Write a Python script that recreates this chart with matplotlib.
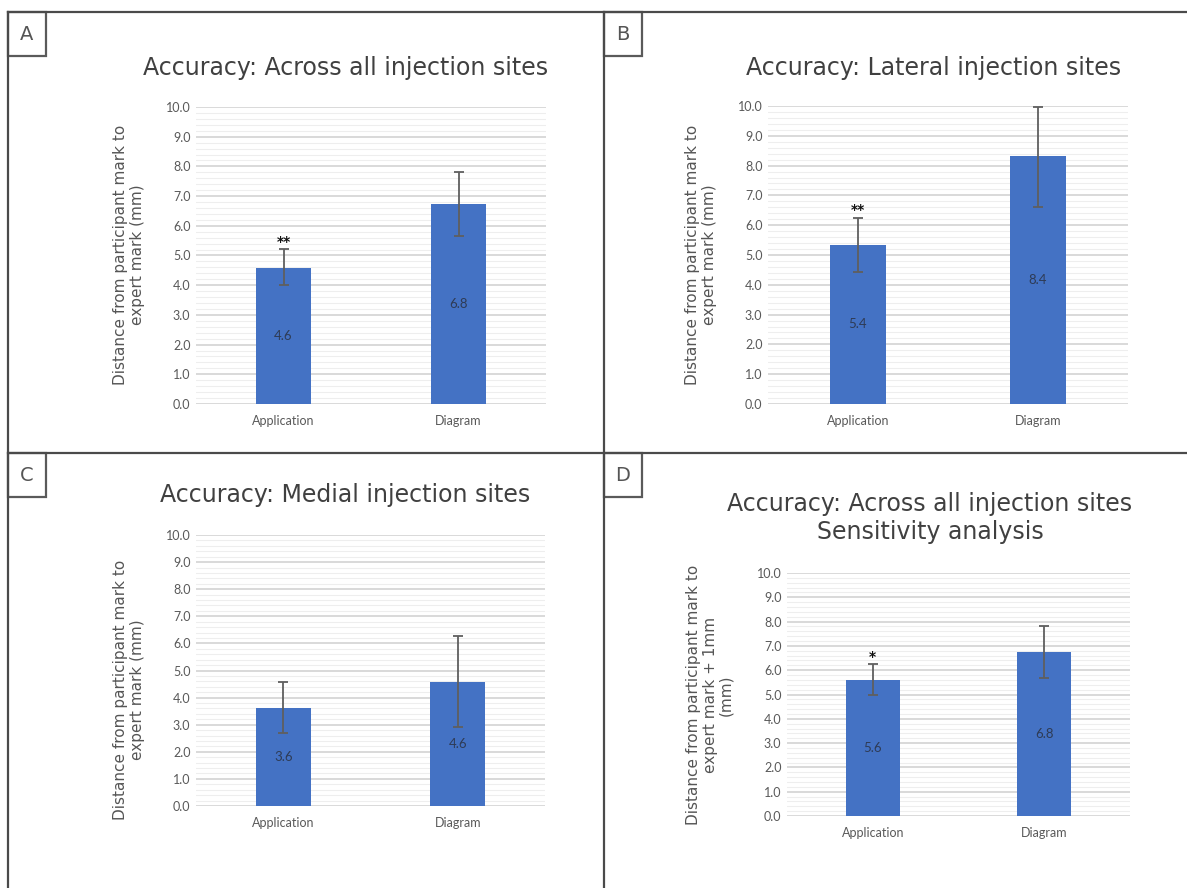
import matplotlib
matplotlib.use("Agg")
import matplotlib.pyplot as plt
from matplotlib.lines import Line2D
from matplotlib.patches import Rectangle
from matplotlib.ticker import MultipleLocator

W, H = 1187, 888
fig = plt.figure(figsize=(W / 100, H / 100), dpi=100)

categories = ["Application", "Diagram"]

# Panel data
panel_letters = ["A", "B", "C", "D"]
titles = [
    "Accuracy: Across all injection sites",
    "Accuracy: Lateral injection sites",
    "Accuracy: Medial injection sites",
    "Accuracy: Across all injection sites\nSensitivity analysis",
]
ylabels = [
    "Distance from participant mark to\nexpert mark (mm)",
    "Distance from participant mark to\nexpert mark (mm)",
    "Distance from participant mark to\nexpert mark (mm)",
    "Distance from participant mark to\nexpert mark + 1mm\n(mm)",
]
bar_A = [4.58, 6.73]
bar_B = [5.34, 8.33]
bar_C = [3.63, 4.58]
bar_D = [5.60, 6.74]
labels_A = ["4.6", "6.8"]
labels_B = ["5.4", "8.4"]
labels_C = ["3.6", "4.6"]
labels_D = ["5.6", "6.8"]
err_lo_A = [4.00, 5.65]
err_hi_A = [5.22, 7.81]
err_lo_B = [4.43, 6.62]
err_hi_B = [6.24, 9.98]
err_lo_C = [2.71, 2.90]
err_hi_C = [4.58, 6.26]
err_lo_D = [5.00, 5.68]
err_hi_D = [6.25, 7.82]
sig_A = ["**", ""]
sig_B = ["**", ""]
sig_C = ["", ""]
sig_D = ["*", ""]
sig_y_A = 5.45
sig_y_B = 6.5
sig_y_C = 0
sig_y_D = 6.55

bars = [bar_A, bar_B, bar_C, bar_D]
labels = [labels_A, labels_B, labels_C, labels_D]
err_lo = [err_lo_A, err_lo_B, err_lo_C, err_lo_D]
err_hi = [err_hi_A, err_hi_B, err_hi_C, err_hi_D]
sigs = [sig_A, sig_B, sig_C, sig_D]
sig_ys = [sig_y_A, sig_y_B, sig_y_C, sig_y_D]

# layout in pixels: (left, right, top, bottom)
axes_px = [(196, 546, 107, 404), (768, 1128, 106, 404),
           (196, 545, 535, 806), (787, 1130, 573, 816)]
title_px = [(346, 68), (934, 68), (345, 495), (930, 518)]
ylabel_px = [(129, 255), (701, 255), (129, 690), (710, 695)]

def fx(x):
    return x / W

def fy(y):
    return 1 - y / H

FONT = ["DejaVu Sans"]
TICKFONT = ["Lato", "DejaVu Sans"]
bar_color = "#4472C4"

for i in range(4):
    l, r, t, b = axes_px[i]
    ax = fig.add_axes([fx(l), fy(b), (r - l) / W, (b - t) / H])
    x = list(range(len(categories)))
    ax.set_xlim(-0.5, 1.5)
    ax.set_ylim(0, 10)
    vals = bars[i]
    lo = [v - e for v, e in zip(vals, err_lo[i])]
    hi = [e - v for v, e in zip(vals, err_hi[i])]
    ax.bar(x, vals, width=0.315, color=bar_color, zorder=3)
    ax.errorbar(x, vals, yerr=[lo, hi], fmt="none", ecolor="#5f5f5f",
                elinewidth=1.3, capsize=3.5, capthick=1.3, zorder=4)
    for xi, v, lab in zip(x, vals, labels[i]):
        ax.text(xi, v / 2, lab, ha="center", va="center", fontsize=9.5,
                color="#2e3b55", family=TICKFONT, zorder=5)
    for xi, s in zip(x, sigs[i]):
        if s:
            ax.text(xi, sig_ys[i], s, ha="center", va="center", fontsize=10,
                    fontweight="bold", color="#111111", zorder=5)
    ax.yaxis.set_major_locator(MultipleLocator(1.0))
    ax.yaxis.set_minor_locator(MultipleLocator(0.2))
    ax.set_yticks([k for k in range(11)])
    ax.set_yticklabels([f"{k:.1f}" for k in range(11)])
    ax.grid(axis="y", which="major", color="#d9d9d9", linewidth=1.4, zorder=0)
    ax.grid(axis="y", which="minor", color="#eeeeee", linewidth=0.8, zorder=0)
    ax.set_xticks(x)
    ax.set_xticklabels(categories)
    for sp in ax.spines.values():
        sp.set_visible(False)
    ax.tick_params(axis="both", which="both", length=0)
    ax.tick_params(axis="y", pad=4, labelsize=9, labelcolor="#595959")
    ax.tick_params(axis="x", pad=8, labelsize=9, labelcolor="#595959")
    for tl in ax.get_xticklabels() + ax.get_yticklabels():
        tl.set_family(TICKFONT)
    ax.set_axisbelow(True)

    tx, ty = title_px[i]
    fig.text(fx(tx), fy(ty), titles[i], ha="center", va="center",
             fontsize=17, color="#404040", family=FONT, linespacing=1.2)
    yx, yy = ylabel_px[i]
    fig.text(fx(yx), fy(yy), ylabels[i], ha="center", va="center",
             rotation=90, fontsize=11, color="#555555", family=FONT,
             linespacing=1.1)

# panel borders
bc = "#4a4a4a"
lines = [((8, 12), (W, 12)), ((8, 12), (8, H)), ((604, 12), (604, H)),
         ((8, 453), (W, 453))]
for (x0, y0), (x1, y1) in lines:
    fig.add_artist(Line2D([fx(x0), fx(x1)], [fy(y0), fy(y1)],
                          color=bc, linewidth=1.6, transform=fig.transFigure))

boxes = [(8, 12), (604, 12), (8, 453), (604, 453)]
for (bx, by), letter in zip(boxes, panel_letters):
    bw, bh = 38, 44
    fig.add_artist(Rectangle((fx(bx), fy(by + bh)), bw / W, bh / H,
                             fill=True, facecolor="white", edgecolor="#5a5a5a",
                             linewidth=1.6, transform=fig.transFigure))
    fig.text(fx(bx + bw / 2), fy(by + bh / 2), letter, ha="center",
             va="center", fontsize=14, color="#555555", family=FONT)

fig.savefig("out.png", dpi=100, facecolor="white")
